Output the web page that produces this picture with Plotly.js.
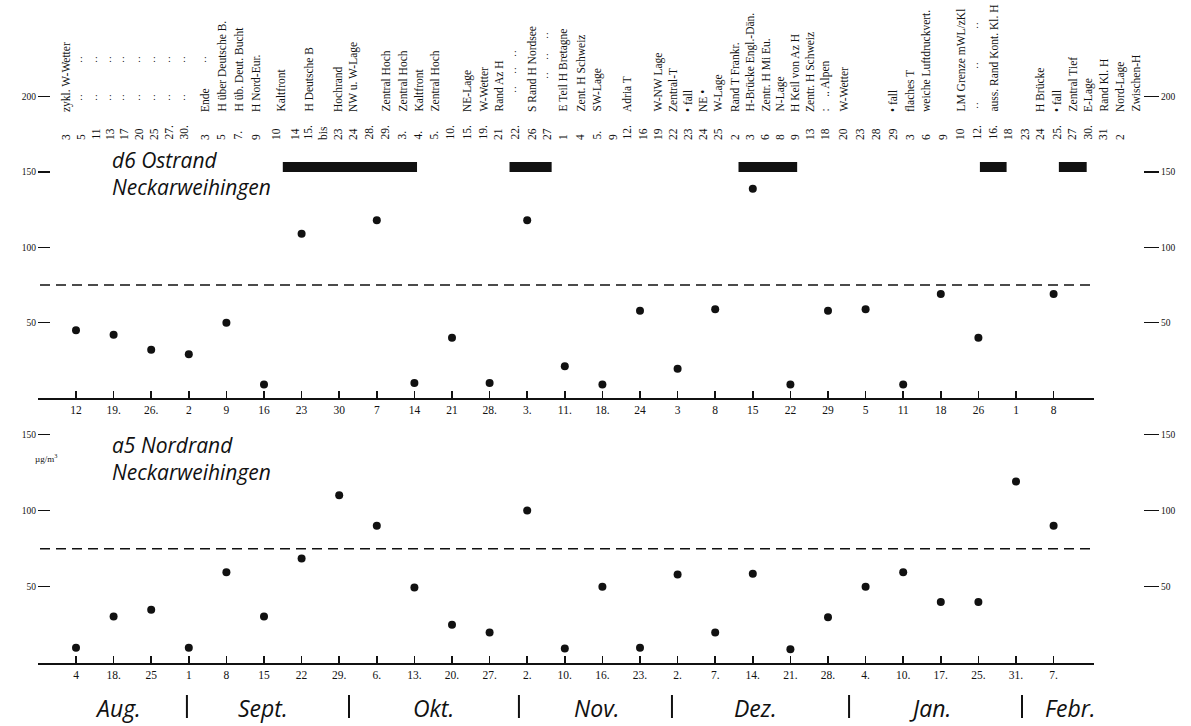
<!DOCTYPE html>
<html><head><meta charset="utf-8">
<script src="https://cdn.plot.ly/plotly-3.0.1.min.js"></script>
<style>html,body{margin:0;padding:0;background:#fff;}#chart{width:1191px;height:726px;}</style>
</head><body><div id="chart"></div>
<script>
// ---------------- DATA ----------------
const topTickLabels = ["12","19.","26.","2","9","16","23","30","7","14","21","28.","3.","11.","18.","24","3","8","15","22","29","5","11","18","26","1","8"];
const topValues = [45, 42, 32, 29, 50, 9, 109, null, 118, 10, 40, 10, 118, 21, 9, 58, 19.5, 59, 139, 9, 58, 59, 9, 69, 40, null, 69];
const bottomTickLabels = ["4","18.","25","1","8","15","22","29.","6.","13.","20.","27.","2.","10.","16.","23.","2.","7.","14.","21.","28.","4.","10.","17.","25.","31.","7."];
const bottomValues = [10, 30.5, 35, 10, 59.5, 30.5, 68.5, 110, 90, 49.5, 25, 20, 100, 9.5, 50, 10, 58, 20, 58.5, 9, 30, 50, 59.5, 40, 40, 119, 90];
const limitValue = 75;
const periodStart = [5.5, 11.53, 17.62, 24.04, 26.14];
const periodEnd   = [9.07, 12.65, 19.18, 24.75, 26.88];
const topTitle = ["d6 Ostrand", "Neckarweihingen"];
const bottomTitle = ["a5 Nordrand", "Neckarweihingen"];
const unitLabel = "µg/m<sup>3</sup>";
const topYTicks = [50, 100, 150, 200];
const bottomYTicks = [50, 100, 150];
const monthNames = ["Aug.","Sept.","Okt.","Nov.","Dez.","Jan.","Febr."];
const monthBreaks = [2.95, 7.26, 11.78, 15.85, 20.56, 25.16];
const headerDates = ["3","5","11","13","17","20","25","27.","30.",
  "3","5","7.","9","10","14","15.","bis","23","24","28.","29.",
  "3.","4.","5.","10.","15.","19.","21","22.","26","27",
  "1","4","5.","9","12.","16","19","22","23","24","25",
  "2","3","6","8","9","13","18","20","23","28","29",
  "3","6","9","10","12.","16.","18","23","24","25.","27","30.","31",
  "2",""];
const headerLabels = ["zykl. W-Wetter","","","","","","","","",
  "Ende","H über Deutsche B.","H üb. Deut. Bucht","H Nord-Eur.","Kaltfront","","H Deutsche B","","Hochrand","NW u. W-Lage","","Zentral Hoch",
  "Zentral Hoch","Kaltfront","Zentral Hoch","","NE-Lage","W-Wetter","Rand Az H","","S Rand H Nordsee","",
  "E Teil H Bretagne","Zent. H Schweiz","SW-Lage","","Adria T","","W-NW Lage","Zentral-T","• fall","NE •","W-Lage",
  "Rand T Frankr.","H-Brücke Engl.-Dän.","Zentr. H Mi Eu.","N-Lage","H Keil von Az H","Zentr. H Schweiz",":    .. Alpen","W-Wetter","","","• fall",
  "flaches T","weiche Luftdruckvert.","","LM Grenze mWL/zKl","","auss. Rand Kont. Kl. H","","","H Brücke","• fall","Zentral Tief","E-Lage","Rand Kl. H",
  "Nord-Lage","Zwischen-H"];

// ---------------- LAYOUT CONSTANTS ----------------
const W = 1191, H = 726;
const px = v => v / W, py = v => 1 - v / H;
const tick0 = 76, tickStep = 37.6;
const idx = p => (p - tick0) / tickStep;
const xRange = [idx(38), idx(1094)];
const topZero = 398, topScale = 1.506;
const botZero = 663, botScale = 1.525;
const headerX = [66,81,96,110,124,139,154,169,184,
  205,221,238,256,276,295,308,323,338,353,369,385,
  402,418,434,450,467,483,498,515,532,547,
  563,580,597,613,627,643,658,673,688,703,718,
  735,750,765,780,795,810,825,843,860,876,893,
  910,926,943,960,977,993,1008,1025,1040,1057,1072,1088,1103,
  1120,1135];
const labelShift = {13: 4};
const dittoMarks = [];
for (let k = 1; k <= 8; k++) { dittoMarks.push([k, 58]); dittoMarks.push([k, 97]); }
dittoMarks.push([9, 58]);
[52, 70, 88].forEach(y => dittoMarks.push([28, y]));
[35, 55, 75].forEach(y => dittoMarks.push([30, y]));
[25, 65, 105].forEach(y => dittoMarks.push([57, y]));
const monthLabelX = [1.12, 4.97, 9.5, 13.86, 18.08, 22.71, 26.46];
const barLevel = (topZero - 167) / topScale;

const serif = "Liberation Serif, Times New Roman, serif";
const sans = "Open Sans, DejaVu Sans, sans-serif";
const ink = "#111";

const idxArr = topTickLabels.map((_, i) => i);

// ---------------- TRACES ----------------
const barX = [], barY = [];
periodStart.forEach((s, i) => { barX.push(s, periodEnd[i], null); barY.push(barLevel, barLevel, null); });

const traces = [
  {x: idxArr, y: topValues, xaxis: "x", yaxis: "y", mode: "markers", type: "scatter",
   marker: {color: ink, size: 8}, hoverinfo: "skip", cliponaxis: false},
  {x: bottomTickLabels.map((_, i) => i), y: bottomValues, xaxis: "x2", yaxis: "y2", mode: "markers", type: "scatter",
   marker: {color: ink, size: 8}, hoverinfo: "skip", cliponaxis: false},
  {x: barX, y: barY, xaxis: "x", yaxis: "y", mode: "lines", type: "scatter",
   line: {color: ink, width: 10}, hoverinfo: "skip"},
  {x: [0], y: [null], xaxis: "x", yaxis: "y3", mode: "markers", type: "scatter", hoverinfo: "skip"},
  {x: [0], y: [null], xaxis: "x2", yaxis: "y4", mode: "markers", type: "scatter", hoverinfo: "skip"}
];

// ---------------- AXES ----------------
const xBase = {
  domain: [px(38), px(1094)], range: xRange, showgrid: false, zeroline: false,
  showline: true, linewidth: 2, linecolor: ink,
  ticks: "inside", ticklen: 7, tickwidth: 1.5, tickcolor: ink,
  tickmode: "array", tickvals: idxArr,
  tickfont: {family: serif, size: 11.5, color: ink}, fixedrange: true
};
const yBase = {
  showgrid: false, zeroline: false, showline: false,
  ticks: "outside", tickwidth: 1.3, tickcolor: ink, tickmode: "array",
  tickfont: {family: serif, size: 9.5, color: ink}, anchor: "free", fixedrange: true
};

const layout = {
  width: W, height: H, margin: {l: 0, r: 0, t: 0, b: 0},
  paper_bgcolor: "#fff", plot_bgcolor: "rgba(0,0,0,0)", showlegend: false,
  xaxis: Object.assign({}, xBase, {anchor: "y", ticktext: topTickLabels}),
  xaxis2: Object.assign({}, xBase, {anchor: "y2", ticktext: bottomTickLabels}),
  yaxis: Object.assign({}, yBase, {domain: [py(topZero), 1], range: [0, topZero / topScale],
    position: px(50), side: "left", ticklen: 12, tickvals: topYTicks, ticktext: topYTicks.map(String)}),
  yaxis3: Object.assign({}, yBase, {overlaying: "y", range: [0, topZero / topScale],
    position: px(1143), side: "right", ticklen: 15, tickvals: topYTicks, ticktext: topYTicks.map(String)}),
  yaxis2: Object.assign({}, yBase, {domain: [py(botZero), py(420)], range: [0, (botZero - 420) / botScale],
    position: px(50), side: "left", ticklen: 12, tickvals: bottomYTicks, ticktext: bottomYTicks.map(String)}),
  yaxis4: Object.assign({}, yBase, {overlaying: "y2", range: [0, (botZero - 420) / botScale],
    position: px(1143), side: "right", ticklen: 15, tickvals: bottomYTicks, ticktext: bottomYTicks.map(String)}),
  shapes: [],
  annotations: []
};

// threshold lines
[["y", limitValue], ["y2", limitValue]].forEach(([yr, v]) => {
  layout.shapes.push({type: "line", xref: "paper", yref: yr, x0: px(40), x1: px(1093), y0: v, y1: v,
    line: {color: ink, width: 1.5, dash: "10px,6px"}});
});
// month separators
monthBreaks.forEach(m => {
  layout.shapes.push({type: "line", xref: "x2", yref: "paper", x0: m, x1: m, y0: py(718), y1: py(695),
    line: {color: ink, width: 2}});
});
// month names
monthNames.forEach((m, i) => {
  layout.annotations.push({xref: "x2", yref: "paper", x: monthLabelX[i], y: py(708), text: "<i>" + m + "</i>",
    showarrow: false, xanchor: "center", yanchor: "middle", font: {family: sans, size: 23, color: ink}});
});
// panel titles
function addTitle(lines, x, yc) {
  layout.annotations.push({xref: "paper", yref: "paper", x: px(x), y: py(yc),
    text: "<i>" + lines[0] + "<br>" + lines[1] + "</i>", align: "left",
    showarrow: false, xanchor: "left", yanchor: "middle", font: {family: sans, size: 21, color: ink}});
}
addTitle(topTitle, 110, 174);
addTitle(bottomTitle, 110, 458);
layout.annotations.push({xref: "paper", yref: "paper", x: px(46), y: py(458), text: unitLabel,
  showarrow: false, xanchor: "center", yanchor: "middle", font: {family: serif, size: 9, color: ink}});

// header: dates & weather situations
headerDates.forEach((d, k) => {
  if (!d) return;
  layout.annotations.push({xref: "paper", yref: "paper", x: px(headerX[k]), y: py(142), text: d,
    textangle: -90, showarrow: false, xanchor: "center", yanchor: "bottom",
    font: {family: serif, size: 11.5, color: ink}});
});
headerLabels.forEach((t, k) => {
  if (!t) return;
  layout.annotations.push({xref: "paper", yref: "paper", x: px(headerX[k] + (labelShift[k] || 0)), y: py(114), text: t,
    textangle: -90, showarrow: false, xanchor: "center", yanchor: "bottom",
    font: {family: serif, size: 11.5, color: ink}});
});
dittoMarks.forEach(([k, y]) => {
  layout.annotations.push({xref: "paper", yref: "paper", x: px(headerX[k]), y: py(y), text: ":",
    showarrow: false, xanchor: "center", yanchor: "middle", font: {family: serif, size: 10, color: ink}});
});

Plotly.newPlot("chart", traces, layout, {displayModeBar: false, staticPlot: true});
</script>
</body></html>
